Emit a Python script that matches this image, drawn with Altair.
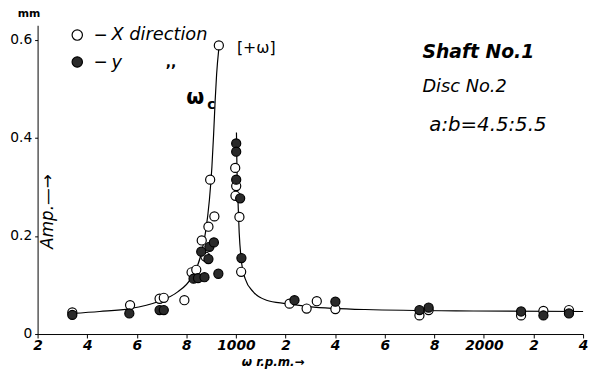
import altair as alt
import pandas as pd

# ---- data (rpm, amplitude in mm) ----
x_dir_rpm = [340, 573, 692, 709, 792, 821, 840, 862, 877, 889, 896, 913, 931,
             997, 1001, 998, 1014, 1021, 1216, 1285, 1326, 1401, 1740, 1777, 2150, 2240, 2343]
x_dir_amp = [0.044, 0.059, 0.072, 0.074, 0.069, 0.126, 0.131, 0.191, 0.158, 0.219, 0.315, 0.240, 0.589,
             0.339, 0.302, 0.282, 0.239, 0.127, 0.062, 0.052, 0.067, 0.051, 0.038, 0.049, 0.038, 0.047, 0.049]

y_dir_rpm = [340, 570, 692, 709, 829, 847, 873, 929, 860, 893, 911, 889,
             1001, 1001, 1001, 1017, 1022, 1236, 1401, 1740, 1777, 2150, 2240, 2343]
y_dir_amp = [0.039, 0.042, 0.049, 0.049, 0.113, 0.114, 0.116, 0.123, 0.168, 0.178, 0.187, 0.153,
             0.389, 0.372, 0.315, 0.277, 0.155, 0.069, 0.066, 0.049, 0.054, 0.046, 0.038, 0.042]

left_curve_rpm = [339, 450, 573, 685, 765, 818, 858, 877, 893, 903, 910, 916, 922, 931]
left_curve_amp = [0.042, 0.046, 0.052, 0.066, 0.086, 0.113, 0.160, 0.207, 0.274, 0.341, 0.408, 0.475, 0.530, 0.583]

right_curve_rpm = [1002, 1004, 1008, 1013, 1021, 1037, 1070, 1123, 1202, 1294, 1521, 1958, 2400]
right_curve_amp = [0.411, 0.341, 0.274, 0.207, 0.153, 0.113, 0.086, 0.069, 0.062, 0.056, 0.050, 0.047, 0.046]

x_tick_values = [200, 400, 600, 800, 1000, 1200, 1400, 1600, 1800, 2000, 2200, 2400]
x_tick_labels = ["2", "4", "6", "8", "1000", "2", "4", "6", "8", "2000", "2", "4"]
y_tick_values = [0, 0.2, 0.4, 0.6]
y_tick_labels = ["0", "0.2", "0.4", "0.6"]

# annotations (text, rpm, amp)
italic_text = ["X direction", "y", "Disc No.2", "a:b=4.5:5.5"]
italic_rpm = [498, 498, 1752, 1780]
italic_amp = [0.610, 0.553, 0.503, 0.427]
italic_size = [18, 18, 18, 20]

bold_italic_text = ["Shaft No.1"]
bold_italic_rpm = [1752]
bold_italic_amp = [0.576]

plain_text = ["\u2014", "\u2014", ",,", "[+\u03c9]", "mm"]
plain_rpm = [431, 431, 717, 1004, 120]
plain_amp = [0.610, 0.555, 0.553, 0.584, 0.652]
plain_size = [12, 12, 14, 16, 11]
plain_weight_bold = [True, True, True, False, True]

legend_kind = ["open", "filled"]
legend_rpm = [360, 360]
legend_amp = [0.610, 0.555]

XMIN, XMAX = 200, 2400
YMIN, YMAX = 0, 0.63


def label_expr(values, labels):
    parts = [f"datum.value == {v} ? '{l}'" for v, l in zip(values, labels)]
    return " : ".join(parts) + " : ''"


xs = alt.Scale(domain=[XMIN, XMAX], nice=False, zero=False)
ys = alt.Scale(domain=[YMIN, YMAX], nice=False)

x_axis = alt.Axis(values=x_tick_values, labelExpr=label_expr(x_tick_values, x_tick_labels),
                  title=None, grid=False, tickSize=4, labelPadding=1, labelFontSize=14,
                  labelFontStyle="italic", labelFontWeight="bold", labelFont="DejaVu Sans",
                  labelFlush=False, domainColor="black", tickColor="black", labelColor="black")
y_axis = alt.Axis(values=y_tick_values, labelExpr=label_expr(y_tick_values, y_tick_labels),
                  title=None, grid=False, tickSize=3, labelPadding=3, labelFontSize=14,
                  labelFont="DejaVu Sans", domainColor="black", tickColor="black",
                  labelColor="black")

curves = pd.DataFrame({
    "rpm": left_curve_rpm + right_curve_rpm,
    "amp": left_curve_amp + right_curve_amp,
    "branch": ["left"] * len(left_curve_rpm) + ["right"] * len(right_curve_rpm),
})
pts_x = pd.DataFrame({"rpm": x_dir_rpm, "amp": x_dir_amp})
pts_y = pd.DataFrame({"rpm": y_dir_rpm, "amp": y_dir_amp})

line = alt.Chart(curves).mark_line(color="black", strokeWidth=1.2, interpolate="monotone").encode(
    x=alt.X("rpm:Q", scale=xs, axis=x_axis),
    y=alt.Y("amp:Q", scale=ys, axis=y_axis),
    detail="branch:N",
)

open_pts = alt.Chart(pts_x).mark_point(shape="circle", filled=True, fill="white", stroke="black",
                                       strokeWidth=1.2, size=85, opacity=1).encode(
    x=alt.X("rpm:Q", scale=xs), y=alt.Y("amp:Q", scale=ys))
filled_pts = alt.Chart(pts_y).mark_point(shape="circle", filled=True, fill="#2a2a2a", stroke="black",
                                         strokeWidth=1.2, size=85, opacity=1).encode(
    x=alt.X("rpm:Q", scale=xs), y=alt.Y("amp:Q", scale=ys))

leg = pd.DataFrame({"kind": legend_kind, "rpm": legend_rpm, "amp": legend_amp})
leg_pts = alt.Chart(leg).mark_point(shape="circle", filled=True, stroke="black", strokeWidth=1.2,
                                    size=110, opacity=1).encode(
    x=alt.X("rpm:Q", scale=xs), y=alt.Y("amp:Q", scale=ys),
    fill=alt.Fill("kind:N", scale=alt.Scale(domain=["open", "filled"], range=["white", "#2a2a2a"]),
                  legend=None))

it = pd.DataFrame({"t": italic_text, "rpm": italic_rpm, "amp": italic_amp, "s": italic_size})
italic_layer = alt.Chart(it).mark_text(align="left", baseline="middle", fontStyle="italic",
                                       font="DejaVu Sans", color="black").encode(
    x=alt.X("rpm:Q", scale=xs), y=alt.Y("amp:Q", scale=ys), text="t:N",
    size=alt.Size("s:Q", scale=None))

bi = pd.DataFrame({"t": bold_italic_text, "rpm": bold_italic_rpm, "amp": bold_italic_amp})
bold_italic_layer = alt.Chart(bi).mark_text(align="left", baseline="middle", fontStyle="italic",
                                            fontWeight="bold", fontSize=19, font="DejaVu Sans",
                                            color="black").encode(
    x=alt.X("rpm:Q", scale=xs), y=alt.Y("amp:Q", scale=ys), text="t:N")

pl = pd.DataFrame({"t": plain_text, "rpm": plain_rpm, "amp": plain_amp, "s": plain_size,
                   "b": plain_weight_bold})
plain_bold = alt.Chart(pl[pl["b"]]).mark_text(align="left", baseline="middle", font="DejaVu Sans",
                                              color="black", fontWeight="bold").encode(
    x=alt.X("rpm:Q", scale=xs), y=alt.Y("amp:Q", scale=ys), text="t:N",
    size=alt.Size("s:Q", scale=None))
plain_norm = alt.Chart(pl[~pl["b"]]).mark_text(align="left", baseline="middle", font="DejaVu Sans",
                                               color="black").encode(
    x=alt.X("rpm:Q", scale=xs), y=alt.Y("amp:Q", scale=ys), text="t:N",
    size=alt.Size("s:Q", scale=None))

omega = pd.DataFrame({"t": ["\u03c9", "c"], "rpm": [800, 884], "amp": [0.482, 0.468], "s": [21, 14]})
omega_layer = alt.Chart(omega).mark_text(align="left", baseline="middle", font="DejaVu Sans",
                                         color="black", fontWeight="bold").encode(
    x=alt.X("rpm:Q", scale=xs), y=alt.Y("amp:Q", scale=ys), text="t:N",
    size=alt.Size("s:Q", scale=None))

ytitle = pd.DataFrame({"t": ["Amp.\u2014\u2192"], "rpm": [243], "amp": [0.250]})
ytitle_layer = alt.Chart(ytitle).mark_text(align="center", baseline="middle", angle=270,
                                           fontStyle="italic", font="DejaVu Sans", fontSize=17,
                                           color="black").encode(
    x=alt.X("rpm:Q", scale=xs), y=alt.Y("amp:Q", scale=ys), text="t:N")

xtitle = pd.DataFrame({"t": ["\u03c9  r.p.m.\u2192"], "rpm": [1150], "amp": [-0.058]})
xtitle_layer = alt.Chart(xtitle).mark_text(align="center", baseline="middle", fontStyle="italic",
                                           font="DejaVu Sans", fontSize=12, fontWeight="bold",
                                           color="black").encode(
    x=alt.X("rpm:Q", scale=xs), y=alt.Y("amp:Q", scale=ys), text="t:N")

chart = alt.layer(line, open_pts, filled_pts, leg_pts, italic_layer, bold_italic_layer,
                  plain_bold, plain_norm, omega_layer, ytitle_layer, xtitle_layer).properties(
    width=553, height=313,
    autosize=alt.AutoSizeParams(type="none"),
    padding={"left": 30, "top": 15, "right": 6, "bottom": 38},
    background="white",
).configure_view(stroke=None)

chart.save("out.html", embed_options={"renderer": "svg", "actions": False})
